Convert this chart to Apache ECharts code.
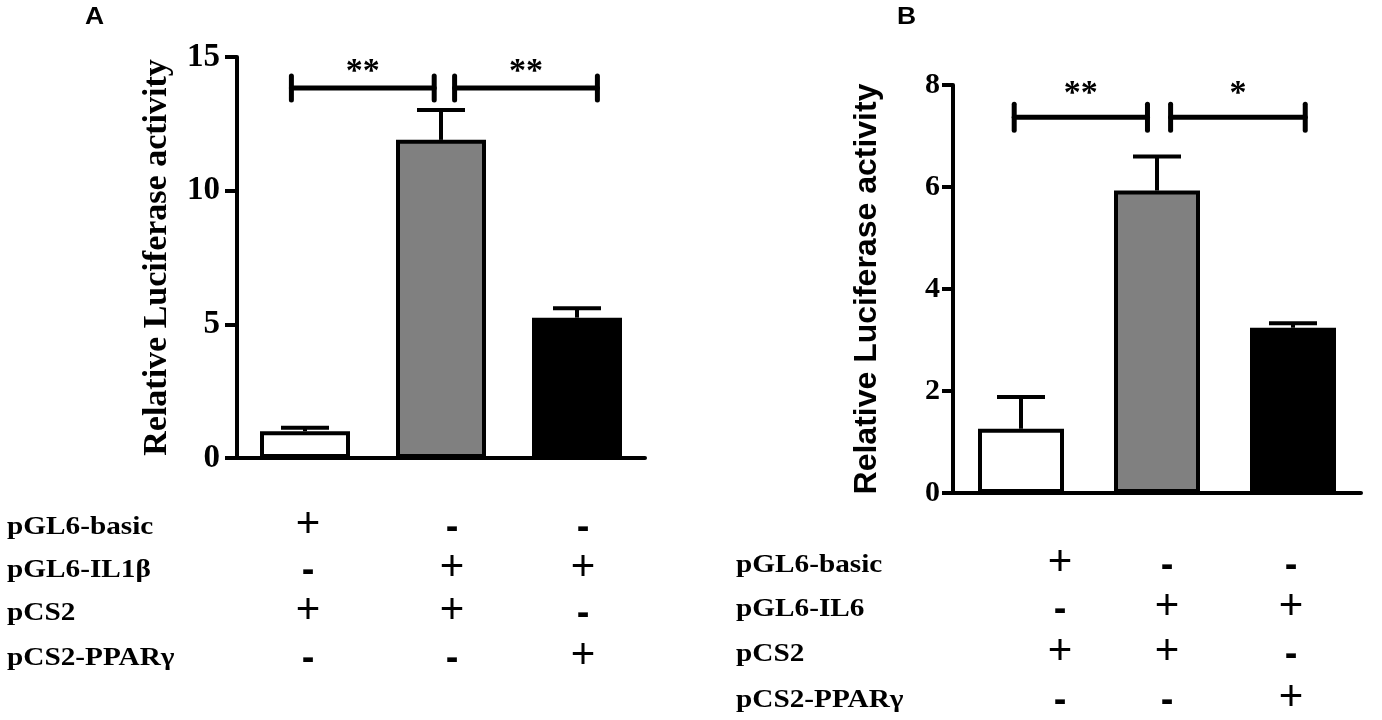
<!DOCTYPE html>
<html>
<head>
<meta charset="utf-8">
<style>
	html,body{ margin:0; padding:0; background:#fff;}
	#mainBox{ width:1382px; height:720px;}
</style>
</head>
<body>
<div id="mainBox"></div>
<script src="https://cdn.jsdelivr.net/npm/echarts@6/dist/echarts.min.js"></script>
<script>
// data: panel A
var groupsA=['g1','g2','g3'];
var meanA=[1.0,11.9,5.25];
var errA=[0.13,1.12,0.35];
var sigA=[[0,1,13.84,'**'],[1,2,13.84,'**']];
var rowsA=['pGL6-basic','pGL6-IL1\u03b2','pCS2','pCS2-PPAR\u03b3'];
var signsA=[['+','-','-'],['-','+','+'],['+','+','-'],['-','-','+']];
var ticksA=[0,15,5];

// data: panel B
var groupsB=['g1','g2','g3'];
var meanB=[1.26,5.93,3.24];
var errB=[0.62,0.67,0.09];
var sigB=[[0,1,7.37,'**'],[1,2,7.37,'*']];
var rowsB=['pGL6-basic','pGL6-IL6','pCS2','pCS2-PPAR\u03b3'];
var signsB=[['+','-','-'],['-','+','+'],['+','+','-'],['-','-','+']];
var ticksB=[0,8,2];

var yName='Relative Luciferase activity';
var fills=['#ffffff','#808080','#000000'];

// layout bits (pixels)
var serif='"Liberation Serif","Times New Roman",serif';
var sans='"Liberation Sans",Arial,sans-serif';
var brPad=[[[-0.1,-0.05],[0.1,0.15]],[[-0.05,-0.07],[0.1,0.09]]];
var brCap=[12,13];
var starUp=[-1,6];
var tableA={labelX:7,colX:[308,452,583],rowY:[528,571,614,659]};
var tableB={labelX:736,colX:[1060,1167,1291],rowY:[566,610,655,701]};

function barData(vals){
	var out=[];
	for(var i=0;i<vals.length;i++){
		out.push({value:vals[i],itemStyle:{color:fills[i]}});
	}
	return out;
}
function errData(m,e){
	var out=[];
	for(var i=0;i<m.length;i++)out.push([i,m[i],e[i]]);
	return out;
}
var errRender=function(params,api){
	var i=api.value(0),v=api.value(1),e=api.value(2);
	var p0=api.coord([i,v]);
	var p1=api.coord([i,v+e]);
	var half=24;
	var st={stroke:'#000',lineWidth:4};
	return {type:'group',children:[
		{type:'line',shape:{x1:p0[0],y1:p0[1],x2:p1[0],y2:p1[1]},style:st},
		{type:'line',shape:{x1:p1[0]-half,y1:p1[1],x2:p1[0]+half,y2:p1[1]},style:st}
	]};
};
function sigRender(panel){
	return function(params,api){
		var a=api.value(0),b=api.value(1),y=api.value(2);
		var band=api.size([1,0])[0];
		var pad=brPad[panel][params.dataIndex];
		var pa=api.coord([a,y]),pb=api.coord([b,y]);
		var x1=pa[0]+pad[0]*band,x2=pb[0]+pad[1]*band,yy=pa[1];
		var c=brCap[panel];
		var st={stroke:'#000',lineWidth:5,lineCap:'round'};
		var text=(panel==0?sigA:sigB)[params.dataIndex][3];
		return {type:'group',children:[
			{type:'line',shape:{x1:x1,y1:yy,x2:x2,y2:yy},style:st},
			{type:'line',shape:{x1:x1,y1:yy-c,x2:x1,y2:yy+c},style:st},
			{type:'line',shape:{x1:x2,y1:yy-c,x2:x2,y2:yy+c},style:st},
			{type:'text',x:(x1+x2)/2,y:yy-starUp[panel],style:{text:text,font:'bold 34px '+serif,fill:'#000',textAlign:'center',textVerticalAlign:'bottom'}}
		]};
	};
}
function tableGraphics(rows,signs,t){
	var g=[];
	for(var r=0;r<rows.length;r++){
		g.push({type:'text',x:t.labelX,y:t.rowY[r],scaleX:1.17,style:{text:rows[r],font:'bold 25px '+serif,fill:'#000',textAlign:'left',textVerticalAlign:'middle'}});
		for(var c=0;c<signs[r].length;c++){
			var s=signs[r][c];
			g.push({type:'text',x:t.colX[c],y:t.rowY[r]+(s=='+'?-3:1),style:{text:s,font:(s=='+'?'normal 42px ':'bold 38px ')+sans,fill:'#000',textAlign:'center',textVerticalAlign:'middle'}});
		}
	}
	return g;
}
var axisLineSt={lineStyle:{color:'#000',width:4}};
var graphics=[
	{type:'text',x:85,y:6,scaleX:1.15,style:{text:'A',font:'bold 23px '+sans,fill:'#000'}},
	{type:'text',x:897,y:6,scaleX:1.15,style:{text:'B',font:'bold 23px '+sans,fill:'#000'}}
].concat(tableGraphics(rowsA,signsA,tableA)).concat(tableGraphics(rowsB,signsB,tableB));

var op={
	animation:false,
	backgroundColor:'#fff',
	grid:[
		{left:237,top:57,width:408,height:401},
		{left:953,top:85,width:408,height:408}
	],
	xAxis:[
		{type:'category',gridIndex:0,data:groupsA,axisLine:axisLineSt,axisTick:{alignWithLabel:true,length:13,lineStyle:{width:4,color:'#000'}},axisLabel:{show:false}},
		{type:'category',gridIndex:1,data:groupsB,axisLine:axisLineSt,axisTick:{alignWithLabel:true,length:13,lineStyle:{width:4,color:'#000'}},axisLabel:{show:false}}
	],
	yAxis:[
		{type:'value',gridIndex:0,min:ticksA[0],max:ticksA[1],interval:ticksA[2],splitLine:{show:false},
			axisLine:{show:true,lineStyle:{color:'#000',width:4}},axisTick:{show:true,length:12,lineStyle:{width:4,color:'#000'}},
			axisLabel:{color:'#000',fontFamily:serif,fontWeight:'bold',fontSize:33,margin:17},
			name:yName,nameLocation:'middle',nameGap:63,nameRotate:90,
			nameTextStyle:{color:'#000',fontFamily:serif,fontWeight:'bold',fontSize:34}},
		{type:'value',gridIndex:1,min:ticksB[0],max:ticksB[1],interval:ticksB[2],splitLine:{show:false},
			axisLine:{show:true,lineStyle:{color:'#000',width:4}},axisTick:{show:true,length:11,lineStyle:{width:4,color:'#000'}},
			axisLabel:{color:'#000',fontFamily:serif,fontWeight:'bold',fontSize:30,margin:13},
			name:yName,nameLocation:'middle',nameGap:70,nameRotate:90,
			nameTextStyle:{color:'#000',fontFamily:sans,fontWeight:'bold',fontSize:32}}
	],
	series:[
		{type:'bar',xAxisIndex:0,yAxisIndex:0,data:barData(meanA),barWidth:90,itemStyle:{borderColor:'#000',borderWidth:4},z:2},
		{type:'bar',xAxisIndex:1,yAxisIndex:1,data:barData(meanB),barWidth:86,itemStyle:{borderColor:'#000',borderWidth:4},z:2},
		{type:'custom',xAxisIndex:0,yAxisIndex:0,data:errData(meanA,errA),renderItem:errRender,encode:{x:0,y:1},z:1},
		{type:'custom',xAxisIndex:1,yAxisIndex:1,data:errData(meanB,errB),renderItem:errRender,encode:{x:0,y:1},z:1},
		{type:'custom',xAxisIndex:0,yAxisIndex:0,data:sigA,renderItem:sigRender(0),encode:{x:[0,1],y:2},z:3},
		{type:'custom',xAxisIndex:1,yAxisIndex:1,data:sigB,renderItem:sigRender(1),encode:{x:[0,1],y:2},z:3}
	],
	graphic:graphics
};
var myChart=echarts.init(document.getElementById('mainBox'));
myChart.setOption(op);
</script>
</body>
</html>
